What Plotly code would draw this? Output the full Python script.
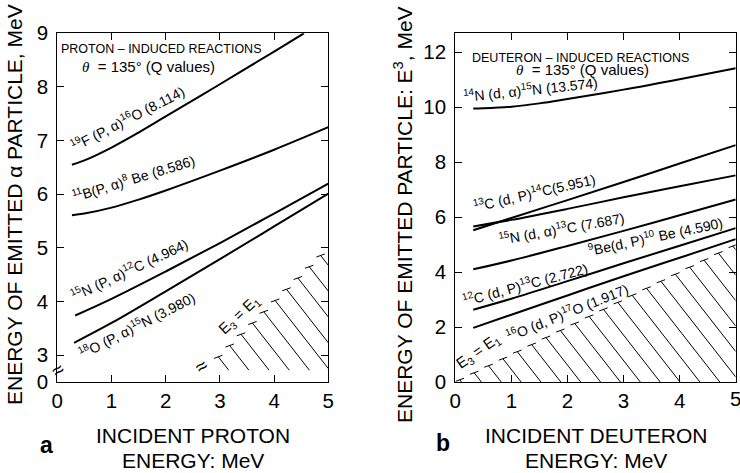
import math
import plotly.graph_objects as go

# ---------------- data : panel a (proton-induced reactions) ----------------
a_F19_x = [0.27, 0.5, 1.0, 1.5, 2.0, 3.0, 4.0, 4.55]
a_F19_y = [6.55, 6.63, 6.87, 7.15, 7.45, 8.05, 8.66, 9.0]
a_B11_x = [0.27, 0.5, 1.0, 1.5, 2.0, 3.0, 4.0, 5.0]
a_B11_y = [5.61, 5.64, 5.75, 5.9, 6.07, 6.44, 6.83, 7.25]
a_N15_x = [0.33, 1.0, 2.0, 3.0, 4.0, 5.0]
a_N15_y = [3.74, 4.05, 4.56, 5.09, 5.64, 6.2]
a_O18_x = [0.31, 1.0, 2.0, 3.0, 4.0, 5.0]
a_O18_y = [3.23, 3.6, 4.19, 4.79, 5.4, 6.01]
a_hatch_range = [2.97, 5.0]      # E3 = E1 boundary extent
a_hatch_floor = 2.72

a_ytickvals = [2.5, 3, 4, 5, 6, 7, 8, 9]
a_yticktext = ["0", "3", "4", "5", "6", "7", "8", "9"]
x_tickvals = [0, 1, 2, 3, 4, 5]

# ---------------- data : panel b (deuteron-induced reactions) --------------
b_N14_x = [0.32, 0.5, 1.0, 1.5, 2.0, 3.0, 4.0, 5.0]
b_N14_y = [9.95, 9.96, 10.02, 10.14, 10.3, 10.64, 11.02, 11.42]
b_C13_x = [0.32, 1.0, 2.0, 3.0, 4.0, 5.0]
b_C13_y = [5.52, 5.97, 6.62, 7.28, 7.95, 8.62]
b_N15_x = [0.32, 1.0, 2.0, 3.0, 4.0, 5.0]
b_N15_y = [5.66, 5.9, 6.3, 6.72, 7.12, 7.52]
b_Be9_x = [0.32, 1.0, 2.0, 3.0, 4.0, 5.0]
b_Be9_y = [4.1, 4.42, 4.95, 5.5, 6.07, 6.64]
b_C12_x = [0.32, 1.0, 2.0, 3.0, 4.0, 5.0]
b_C12_y = [2.63, 3.03, 3.67, 4.32, 4.96, 5.6]
b_O16_x = [0.32, 1.0, 2.0, 3.0, 4.0, 5.0]
b_O16_y = [1.97, 2.45, 3.15, 3.85, 4.52, 5.2]
b_hatch_range = [0.08, 5.0]
b_hatch_floor = 0.0

b_ytickvals = [0, 2, 4, 6, 8, 10, 12]

# ---------------- layout constants ----------------
W, H = 740, 473
A_X = [57.3, 328.3]
B_X = [455.3, 735.7]
Y_PX = [33.3, 382.0]
A_XR, A_YR = [0, 5], [2.5, 9.0]
B_XR, B_YR = [0, 5], [0, 12.69]
FONT = "Liberation Sans, Arial, Helvetica, sans-serif"
TICK_SIZE = 20.5

def px2paper_x(px):
    return px / W

def px2paper_y(py):
    return 1 - py / H

sxa = (A_X[1] - A_X[0]) / (A_XR[1] - A_XR[0])
sya = (Y_PX[1] - Y_PX[0]) / (A_YR[1] - A_YR[0])
sxb = (B_X[1] - B_X[0]) / (B_XR[1] - B_XR[0])
syb = (Y_PX[1] - Y_PX[0]) / (B_YR[1] - B_YR[0])


def hatch(t0, t1, ybot, xmax, sx, sy, step_px=16.0, ang=52.0, cap=4.5, cap_ang=20.0):
    xs, ys = [], []
    dt = step_px / math.hypot(sx, sy)
    ca, sa = math.cos(math.radians(ang)), math.sin(math.radians(ang))
    cx = cap * math.cos(math.radians(cap_ang)) / sx
    cy = cap * math.sin(math.radians(cap_ang)) / sy
    t = t0
    while t <= t1 + 1e-9:
        xs += [t - cx, t + cx, None]
        ys += [t - cy, t + cy, None]
        L = min((t - ybot) * sy / sa, (xmax - t) * sx / ca)
        xs += [t, t + L * ca / sx, None]
        ys += [t, t - L * sa / sy, None]
        t += dt
    return xs, ys


fig = go.Figure()

line_style = dict(color="black", width=2, shape="spline", smoothing=1.0)

for xs, ys in [(a_F19_x, a_F19_y), (a_B11_x, a_B11_y), (a_N15_x, a_N15_y), (a_O18_x, a_O18_y)]:
    fig.add_trace(go.Scatter(x=xs, y=ys, mode="lines", line=line_style,
                             xaxis="x", yaxis="y", showlegend=False, hoverinfo="skip"))

hx, hy = hatch(a_hatch_range[0], a_hatch_range[1], a_hatch_floor, A_XR[1], sxa, sya)
fig.add_trace(go.Scatter(x=hx, y=hy, mode="lines", line=dict(color="black", width=1),
                         xaxis="x", yaxis="y", showlegend=False, hoverinfo="skip"))

for xs, ys in [(b_N14_x, b_N14_y), (b_C13_x, b_C13_y), (b_N15_x, b_N15_y),
               (b_Be9_x, b_Be9_y), (b_C12_x, b_C12_y), (b_O16_x, b_O16_y)]:
    fig.add_trace(go.Scatter(x=xs, y=ys, mode="lines", line=line_style,
                             xaxis="x2", yaxis="y2", showlegend=False, hoverinfo="skip"))

hx, hy = hatch(b_hatch_range[0], b_hatch_range[1], b_hatch_floor, B_XR[1], sxb, syb)
fig.add_trace(go.Scatter(x=hx, y=hy, mode="lines", line=dict(color="black", width=1),
                         xaxis="x2", yaxis="y2", showlegend=False, hoverinfo="skip"))

axis_common = dict(showline=True, linecolor="black", linewidth=1.3, mirror="ticks",
                   ticks="inside", ticklen=7, tickwidth=1.2, tickcolor="black",
                   showgrid=False, zeroline=False, automargin=False,
                   tickfont=dict(family=FONT, size=TICK_SIZE, color="black"))

fig.update_layout(
    template="none",
    width=W, height=H, margin=dict(l=0, r=0, t=0, b=0, autoexpand=False),
    paper_bgcolor="white", plot_bgcolor="white",
    font=dict(family=FONT, color="black"),
    xaxis=dict(domain=[px2paper_x(A_X[0]), px2paper_x(A_X[1])], range=A_XR,
               tickvals=x_tickvals, anchor="y", **axis_common),
    yaxis=dict(domain=[px2paper_y(Y_PX[1]), px2paper_y(Y_PX[0])], range=A_YR,
               tickvals=a_ytickvals, ticktext=a_yticktext, anchor="x",
               ticklabelstandoff=4, **axis_common),
    xaxis2=dict(domain=[px2paper_x(B_X[0]), px2paper_x(B_X[1])], range=B_XR,
                tickvals=x_tickvals, anchor="y2", **axis_common),
    yaxis2=dict(domain=[px2paper_y(Y_PX[1]), px2paper_y(Y_PX[0])], range=B_YR,
                tickvals=b_ytickvals, anchor="x2", ticklabelstandoff=4, **axis_common),
)

ann = []

def data_label(text, x, y, ang, axis, size=14, **kw):
    xr, yr = ("x", "y") if axis == "a" else ("x2", "y2")
    d = dict(text=text, x=x, y=y, xref=xr, yref=yr, textangle=ang, showarrow=False,
             xanchor="center", yanchor="middle",
             font=dict(family=FONT, size=size, color="black"))
    d.update(kw)
    ann.append(d)

def paper_label(text, px, py, size, ang=0, **kw):
    d = dict(text=text, x=px2paper_x(px), y=px2paper_y(py), xref="paper", yref="paper",
             textangle=ang, showarrow=False, xanchor="center", yanchor="middle",
             font=dict(family=FONT, size=size, color="black"))
    d.update(kw)
    ann.append(d)

theta = "<span style='font-family:Liberation Serif, Times New Roman, serif'><i>θ</i></span>"

# panel a labels
data_label("PROTON – INDUCED REACTIONS", 0.04, 8.71, 0, "a", size=12.5, xanchor="left")
data_label(theta + "  = 135° (Q values)", 1.69, 8.375, 0, "a", size=15)
data_label("<sup>19</sup>F (P, α)<sup>16</sup>O (8.114)", 1.30, 7.42, -27, "a")
data_label("<sup>11</sup>B(P, α)<sup>8</sup> Be (8.586)", 1.40, 6.30, -17, "a")
data_label("<sup>15</sup>N (P, α)<sup>12</sup>C (4.964)", 1.34, 4.60, -25, "a")
data_label("<sup>18</sup>O (P, α)<sup>15</sup>N (3.980)", 1.465, 3.56, -27, "a")
data_label("E<sub>3</sub> = E<sub>1</sub>", 3.37, 3.75, -43, "a", size=15)
data_label("≈", 0.0, 2.73, -35, "a", size=20)
data_label("≈", 2.66, 2.79, -35, "a", size=20)

# panel b labels
data_label("DEUTERON – INDUCED REACTIONS", 0.26, 11.80, 0, "b", size=12.5, xanchor="left")
data_label(theta + "  = 135° (Q values)", 2.27, 11.36, 0, "b", size=15)
data_label("<sup>14</sup>N (d, α)<sup>15</sup>N (13.574)", 1.345, 10.68, -6, "b")
data_label("<sup>13</sup>C (d, P)<sup>14</sup>C(5.951)", 1.42, 6.92, -13, "b")
data_label("<sup>15</sup>N (d, α)<sup>13</sup>C (7.687)", 1.90, 5.60, -10, "b")
data_label("<sup>9</sup>Be(d, P)<sup>10</sup> Be (4.590)", 3.565, 5.31, -12, "b")
data_label("<sup>12</sup>C (d, P)<sup>13</sup>C (2.722)", 1.24, 3.56, -15, "b")
data_label("E<sub>3</sub> = E<sub>1</sub>", 0.41, 1.10, -35, "b", size=15)
data_label("<sup>16</sup>O (d, P)<sup>17</sup>O (1.917)", 1.99, 2.56, -22, "b")

# last x tick label of panel b runs off the page edge; plotly hides it, so redraw it
ann.append(dict(text=str(x_tickvals[-1]), x=x_tickvals[-1], xref="x2",
                y=px2paper_y(Y_PX[1] + 16), yref="paper", showarrow=False,
                xanchor="center", yanchor="middle",
                font=dict(family=FONT, size=TICK_SIZE, color="black")))

# axis titles
paper_label("ENERGY OF EMITTED α PARTICLE, MeV", 14, 205, 21, ang=-90)
paper_label("ENERGY OF EMITTED PARTICLE: E<sup>3</sup>, MeV", 403, 215, 21, ang=-90)
paper_label("INCIDENT PROTON", 193, 435, 21)
paper_label("ENERGY: MeV", 193, 460, 21)
paper_label("INCIDENT DEUTERON", 595.5, 435, 21)
paper_label("ENERGY: MeV", 595.5, 460, 21)
paper_label("<b>a</b>", 46.7, 445, 23)
paper_label("<b>b</b>", 443.3, 443, 23)

fig.update_layout(annotations=ann)
fig.write_html("out.html", config={"displayModeBar": False},
               post_script="document.body.style.margin='0';document.body.style.padding='0';")
